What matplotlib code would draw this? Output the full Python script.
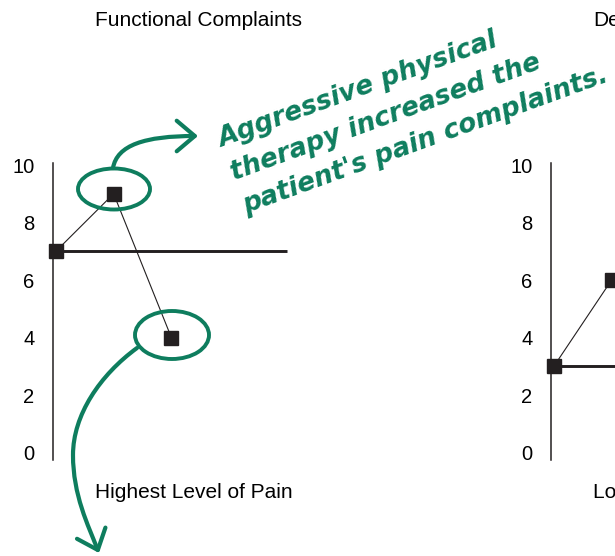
import numpy as np
import matplotlib
matplotlib.use('Agg')
from matplotlib import pyplot as plt
from matplotlib.patches import Ellipse, FancyArrowPatch
from matplotlib.path import Path
import matplotlib.transforms as mtransforms

plt.rcParams['font.family'] = ['Liberation Sans', 'DejaVu Sans']

# data
left_title = 'Functional Complaints'
left_label = 'Highest Level of Pain'
left_x = [0, 1, 2]
left_y = [7, 9, 4]
left_base = 7

right_title = 'Depression'
right_label = 'Lowest Level of Pain'
right_x = [0, 1, 2]
right_y = [3, 6, 2]
right_base = 3

yticks = [0, 2, 4, 6, 8, 10]
note = "Aggressive physical\ntherapy increased the\npatient's pain complaints."

W, H = 615, 556
ink = '#231f20'
green = '#0e7d5e'

fig = plt.figure(figsize=(W / 100, H / 100), dpi=100)
# pixel coords, origin top-left
px = mtransforms.Affine2D().scale(1 / W, -1 / H).translate(0, 1) + fig.transFigure


def panel(x0, xs, ys, base, title, label):
    # spine at x0 px, y from 163 to 460 px
    ax = fig.add_axes([x0 / W, (H - 460) / H, 250 / W, 297 / H])
    ax.set_xlim(-0.05, 4.28)
    ax.set_ylim(-0.26, 10.07)
    for s in ['top', 'right', 'bottom']:
        ax.spines[s].set_visible(False)
    ax.spines['left'].set_color(ink)
    ax.spines['left'].set_linewidth(1.1)
    ax.set_xticks([])
    ax.set_yticks(yticks)
    ax.tick_params(axis='y', length=0, pad=13.5, labelsize=14.5, labelcolor='black')
    ax.plot([-0.05, 4.0], [base, base], color=ink, lw=2.1, solid_capstyle='butt', clip_on=False)
    ax.plot(xs, ys, color=ink, lw=0.8, marker='s', ms=10, mfc=ink, mec=ink, clip_on=False)
    fig.text((x0 + 42) / W, 1 - 21 / H, title, fontsize=15, ha='left', va='center')
    fig.text((x0 + 42) / W, 1 - 492 / H, label, fontsize=15, ha='left', va='center')
    return ax


ax_l = panel(53, left_x, left_y, left_base, left_title, left_label)
ax_r = panel(551, right_x, right_y, right_base, right_title, right_label)

# circles round the two points
for (cx, cy, w, h) in [(114, 189, 72, 41), (172, 335, 74, 48)]:
    e = Ellipse((cx, cy), w, h, transform=px, fill=False, ec=green, lw=2.8, clip_on=False)
    fig.add_artist(e)

# curved arrows
p1 = Path([(113, 168), (117, 145), (145, 136), (198, 136)],
          [Path.MOVETO, Path.CURVE4, Path.CURVE4, Path.CURVE4])
p2 = Path([(137, 348), (100, 375), (73, 415), (73, 455),
           (73, 495), (88, 525), (99, 553)],
          [Path.MOVETO, Path.CURVE4, Path.CURVE4, Path.CURVE4,
           Path.CURVE4, Path.CURVE4, Path.CURVE4])
for p in [p1, p2]:
    a = FancyArrowPatch(path=px.transform_path(p), transform=None,
                        arrowstyle='->,head_length=0.65,head_width=0.55',
                        mutation_scale=20, color=green, lw=3.0,
                        shrinkA=0, shrinkB=0, capstyle='round')
    fig.add_artist(a)

fig.text(243 / W, 1 - 205 / H, note, color=green, fontsize=19, rotation=20,
         rotation_mode='anchor', ha='left', va='baseline', linespacing=1.45,
         family='DejaVu Sans', fontweight='bold', style='oblique', multialignment='left')

fig.savefig('out.png', dpi=100)
